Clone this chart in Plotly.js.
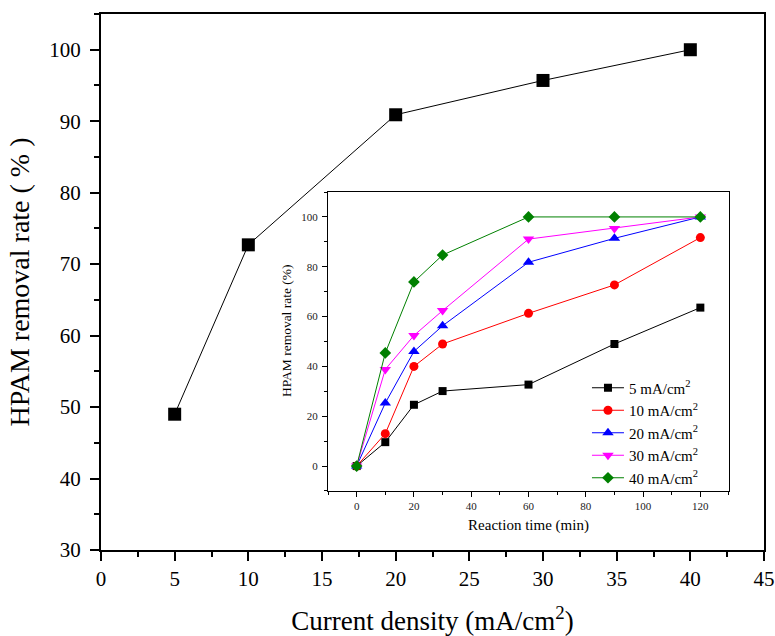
<!DOCTYPE html>
<html>
<head>
<meta charset="utf-8">
<script src="https://cdn.plot.ly/plotly-3.0.1.min.js"></script>
<style>
  html, body { margin: 0; padding: 0; background: #fff; }
  #chart { width: 775px; height: 636px; }
</style>
</head>
<body>
<div id="chart"></div>
<script>
// Final removal rate against current density
const densities = [5, 10, 20, 30, 40];
const finalRemoval = [49.0, 72.7, 90.9, 95.7, 100.0];

// Removal rate over reaction time at each current density
const times = [0, 10, 20, 30, 60, 90, 120];
const seriesNames = ['5 mA/cm<sup>2</sup>', '10 mA/cm<sup>2</sup>', '20 mA/cm<sup>2</sup>',
                     '30 mA/cm<sup>2</sup>', '40 mA/cm<sup>2</sup>'];
const removal5 = [0, 9.6, 24.6, 30.1, 32.7, 49.0, 63.6];
const removal10 = [0, 13.0, 40.0, 49.0, 61.3, 72.7, 91.7];
const removal20 = [0, 25.3, 46.0, 56.3, 81.8, 91.4, 100.0];
const removal30 = [0, 38.8, 52.4, 62.4, 91.1, 95.4, 100.0];
const removal40 = [0, 45.4, 73.9, 84.7, 100.0, 100.0, 100.0];

const seriesValues = [removal5, removal10, removal20, removal30, removal40];
const seriesColors = ['#000000', '#ff0000', '#0000ff', '#ff00ff', '#008000'];
const seriesSymbols = ['square', 'circle', 'triangle-up', 'triangle-down', 'diamond'];
const seriesSizes = [8, 9, 10, 10, 9];

const serif = 'Liberation Serif';

const traces = [{
  x: densities, y: finalRemoval,
  type: 'scatter', mode: 'lines+markers',
  line: { color: '#000', width: 1 },
  marker: { symbol: 'square', size: 13, color: '#000' },
  showlegend: false,
  xaxis: 'x', yaxis: 'y'
}];

seriesValues.forEach((vals, i) => {
  traces.push({
    x: times, y: vals, name: seriesNames[i],
    type: 'scatter', mode: 'lines+markers',
    line: { color: seriesColors[i], width: 1 },
    marker: { symbol: seriesSymbols[i], size: seriesSizes[i], color: seriesColors[i] },
    xaxis: 'x2', yaxis: 'y2'
  });
});

function mainAxis() {
  return {
    showline: true, linewidth: 2, linecolor: '#000', mirror: true,
    ticks: 'outside', ticklen: 9, tickwidth: 2, tickcolor: '#000',
    showgrid: false, zeroline: false, automargin: false,
    tickfont: { family: serif, size: 21, color: '#000' }
  };
}

function insetAxis() {
  return {
    showline: true, linewidth: 1, linecolor: '#000', mirror: true,
    ticks: 'outside', ticklen: 5, tickwidth: 1, tickcolor: '#000',
    showgrid: false, zeroline: false, automargin: false,
    tickfont: { family: serif, size: 11, color: '#222' }
  };
}

const layout = {
  width: 775, height: 636,
  margin: { l: 101, r: 11, t: 14, b: 86 },
  paper_bgcolor: '#fff', plot_bgcolor: '#fff',
  font: { family: serif, color: '#000' },
  showlegend: true,
  legend: {
    x: 0.733, y: 0.333, xanchor: 'left', yanchor: 'top',
    bgcolor: 'rgba(0,0,0,0)', borderwidth: 0,
    font: { family: serif, size: 15, color: '#000' },
    itemwidth: 32,
    tracegroupgap: 0
  },
  xaxis: Object.assign(mainAxis(), {
    range: [0, 45], tickmode: 'linear', tick0: 0, dtick: 5,
    minor: { dtick: 2.5, ticks: 'outside', ticklen: 5, tickwidth: 2, tickcolor: '#000' },
    title: { text: 'Current density (mA/cm<sup>2</sup>)', font: { family: serif, size: 27 }, standoff: 22 }
  }),
  yaxis: Object.assign(mainAxis(), {
    range: [30, 105], tickmode: 'linear', tick0: 30, dtick: 10,
    ticklabelstandoff: 5,
    minor: { dtick: 5, ticks: 'outside', ticklen: 5, tickwidth: 2, tickcolor: '#000' },
    title: { text: 'HPAM removal rate ( % )', font: { family: serif, size: 28 }, standoff: 11 }
  }),
  xaxis2: Object.assign(insetAxis(), {
    domain: [0.3424, 0.9472], anchor: 'y2',
    range: [-10, 130], tickmode: 'linear', tick0: 0, dtick: 20,
    minor: { dtick: 10, ticks: 'outside', ticklen: 3, tickwidth: 1, tickcolor: '#000' },
    title: { text: 'Reaction time (min)', font: { family: serif, size: 15 }, standoff: 8 }
  }),
  yaxis2: Object.assign(insetAxis(), {
    domain: [0.1101, 0.6679], anchor: 'x2',
    range: [-10, 110], tickmode: 'linear', tick0: 0, dtick: 20,
    ticklabelstandoff: 2,
    minor: { dtick: 10, ticks: 'outside', ticklen: 3, tickwidth: 1, tickcolor: '#000' }
  }),
  annotations: [{
    // inset y-axis title, set slightly above the axis centre
    text: 'HPAM removal rate (%)', textangle: -90,
    xref: 'paper', yref: 'paper', x: 0.279, y: 0.4104,
    xanchor: 'center', yanchor: 'middle', showarrow: false,
    font: { family: serif, size: 13.5, color: '#000' }
  }]
};

Plotly.newPlot('chart', traces, layout, { displayModeBar: false, staticPlot: true });
</script>
</body>
</html>
